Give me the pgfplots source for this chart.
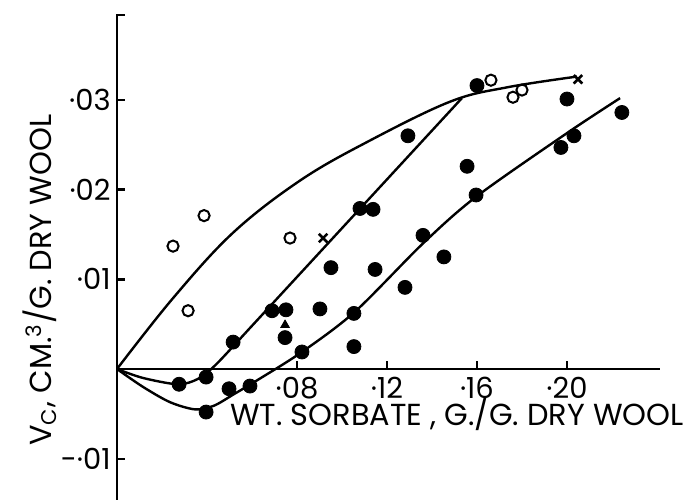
\documentclass[border=0pt]{standalone}
\usepackage{fontspec}
\setmainfont{Poppins}
\usepackage{pgfplots}
\pgfplotsset{compat=1.18}
\begin{document}
\begin{tikzpicture}
\begin{axis}[
  x=1125pt, y=4485pt,
  xmin=0, xmax=0.2413, ymin=-0.0146, ymax=0.0396,
  axis lines=middle,
  axis line style={-, line width=1.4pt},
  clip=false,
  scaled ticks=false,
  xtick={0.08,0.12,0.16,0.20},
  xticklabels={·08,·12,·16,·20},
  ytick={-0.01,0.01,0.02,0.03},
  yticklabels={-·01,·01,·02,·03},
  extra y ticks={0.0395}, extra y tick labels={},
  tick align=inside,
  major tick length=4pt,
  tick style={line width=1.2pt, black},
  ticklabel style={font=\fontsize{14.5}{16}\selectfont, inner sep=1pt},
  xticklabel style={anchor=north, yshift=-3pt},
  yticklabel style={xshift=-2pt},
  xlabel={WT. SORBATE , G./G. DRY WOOL},
  ylabel={V\textsubscript{C}, CM.\textsuperscript{3}/G. DRY WOOL},
  xlabel style={at={(axis cs:0.1511,-0.0050)}, anchor=center, inner sep=0pt, font=\fontsize{15.2}{17}\selectfont},
  ylabel style={at={(axis cs:-0.0342,0.0099)}, anchor=center, inner sep=0pt, rotate=90, font=\fontsize{15.2}{17}\selectfont},
]
% invisible frame for page proportions
\path (axis cs:-0.052,-0.0146) rectangle (axis cs:0.2529,0.04114);

% upper curve
\addplot[black, line width=1.2pt, smooth, tension=0.6] coordinates {
(0,0) (0.0249,0.0079) (0.0516,0.0152) (0.0813,0.0210) (0.1111,0.0253)
(0.1480,0.0298) (0.1733,0.0314) (0.2044,0.0326)};
% middle curve
\addplot[black, line width=1.2pt, smooth, tension=0.5] coordinates {
(0,0) (0.0116,-0.0010) (0.0271,-0.0017) (0.0360,-0.0011) (0.0440,0.0005)
(0.0570,0.0040)};
\addplot[black, line width=1.2pt] coordinates {
(0.0570,0.0040) (0.1533,0.0302)};
% lower curve
\addplot[black, line width=1.2pt, smooth, tension=0.5] coordinates {
(0,0) (0.0116,-0.0020) (0.0236,-0.0037) (0.0347,-0.0045) (0.0430,-0.0041)
(0.0520,-0.0028) (0.0620,-0.0013) (0.0822,0.0019)
(0.1058,0.0064) (0.1360,0.0140) (0.1596,0.0192) (0.2000,0.0263) (0.2236,0.0302)};

% filled circles
\addplot[only marks, mark=*, mark size=3.5pt, black] coordinates {
(0.0276,-0.0017) (0.0396,-0.0009) (0.0396,-0.0048) (0.0498,-0.0022)
(0.0591,-0.0019) (0.0516,0.0030) (0.0689,0.0065) (0.0751,0.0066)
(0.0747,0.0035) (0.0822,0.0019) (0.0902,0.0067) (0.1053,0.0062)
(0.1053,0.0025) (0.0951,0.0113) (0.1147,0.0111) (0.1280,0.0091)
(0.1453,0.0125) (0.1360,0.0149) (0.1080,0.0179) (0.1138,0.0178)
(0.1293,0.0260) (0.1556,0.0226) (0.1596,0.0194) (0.1600,0.0316)
(0.2000,0.0301) (0.2244,0.0286) (0.2031,0.0260) (0.1973,0.0247)};
% open circles
\addplot[only marks, mark=o, mark size=2.8pt, line width=1pt, black] coordinates {
(0.0249,0.0137) (0.0387,0.0171) (0.0316,0.0065) (0.0769,0.0146)
(0.1662,0.0322) (0.1760,0.0303) (0.1800,0.0311)};
% crosses
\addplot[only marks, mark=x, mark size=3pt, line width=1.3pt, black] coordinates {
(0.0916,0.0146) (0.2049,0.0323)};
% triangle
\addplot[only marks, mark=triangle*, mark size=2.5pt, black] coordinates {
(0.0747,0.0049)};
\end{axis}
\end{tikzpicture}
\end{document}
